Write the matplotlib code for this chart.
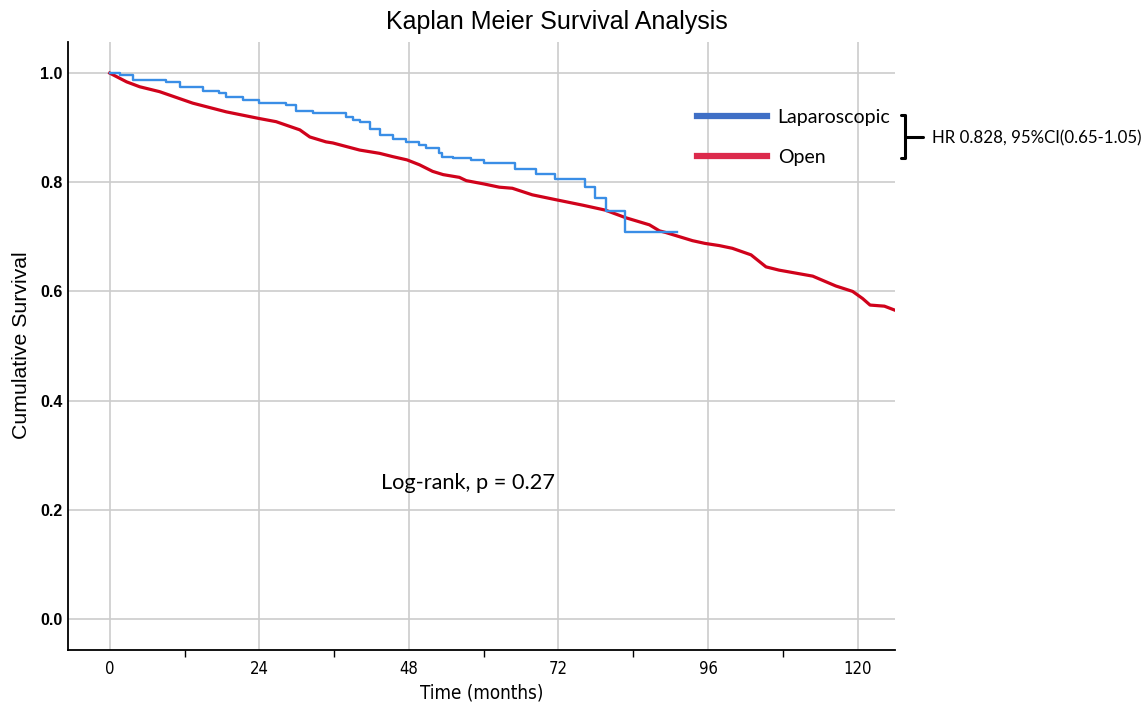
import matplotlib
matplotlib.use("Agg")
from matplotlib import pyplot as plt
from matplotlib.lines import Line2D

# Laparoscopic (blue) - KM steps
lap_t = [0, 1.6, 3.7, 9.1, 11.2, 15.0, 17.6, 18.7, 21.4, 24.0, 28.3, 29.9, 32.6, 37.9, 39.0,
         40.1, 41.7, 43.3, 45.4, 47.6, 49.7, 50.8, 52.9, 53.3, 55.0, 58.0, 60.1, 65.1, 68.4,
         71.5, 76.3, 77.9, 79.6, 82.6, 91.0]
lap_s = [1.0, 0.996, 0.988, 0.984, 0.975, 0.968, 0.963, 0.957, 0.951, 0.946, 0.941, 0.931, 0.927,
         0.920, 0.914, 0.911, 0.897, 0.887, 0.879, 0.874, 0.868, 0.862, 0.853, 0.847, 0.844,
         0.841, 0.836, 0.824, 0.815, 0.806, 0.792, 0.772, 0.747, 0.709, 0.709]

# Open (red)
open_t = [0, 2.7, 4.8, 8.0, 13.3, 18.7, 23.9, 26.7, 30.5, 32.1, 34.7, 35.8, 40.1, 43.3, 45.4,
          47.7, 49.7, 51.8, 53.5, 56.1, 57.2, 60.0, 62.5, 64.6, 67.8, 71.6, 75.9, 79.5, 82.8,
          86.6, 88.2, 89.2, 93.5, 95.5, 97.8, 99.9, 102.9, 105.3, 107.4, 112.8, 116.5, 119.2,
          120.8, 122.0, 124.3, 125.9]
open_s = [1.0, 0.984, 0.975, 0.966, 0.945, 0.929, 0.917, 0.911, 0.896, 0.883, 0.874, 0.872,
          0.859, 0.853, 0.847, 0.841, 0.832, 0.820, 0.814, 0.809, 0.803, 0.797, 0.791, 0.789,
          0.777, 0.768, 0.758, 0.749, 0.735, 0.722, 0.711, 0.708, 0.693, 0.688, 0.684, 0.679,
          0.667, 0.645, 0.639, 0.628, 0.610, 0.600, 0.587, 0.575, 0.573, 0.566]

x_ticks = [0, 24, 48, 72, 96, 120]
x_minor = [12, 36, 60, 84, 108]
y_ticks = [0.0, 0.2, 0.4, 0.6, 0.8, 1.0]

W, H = 1148, 704
fig = plt.figure(figsize=(W / 100, H / 100), dpi=100)
ax = fig.add_axes([68 / W, 1 - 650 / H, (895 - 68) / W, (650 - 42) / H])

ax.plot(open_t, open_s, color="#d0021b", lw=2.3, zorder=3)
ax.plot(lap_t, lap_s, color="#3a8ee6", lw=1.7, drawstyle="steps-post", zorder=4)

ax.set_xlim(-6.7, 126)
ax.set_ylim(-0.057, 1.057)
ax.set_xticks(x_ticks)
ax.set_xticks(x_minor, minor=True)
ax.set_yticks(y_ticks)
ax.set_yticklabels([f"{v:.1f}" for v in y_ticks])
ax.grid(True, color="#cccccc", lw=1.2)
ax.set_axisbelow(True)

for s in ["top", "right"]:
    ax.spines[s].set_visible(False)
ax.spines["left"].set_linewidth(1.3)
ax.spines["bottom"].set_linewidth(1.3)

ax.tick_params(axis="y", length=0, pad=4)
ax.tick_params(axis="x", which="major", length=0, pad=7)
ax.tick_params(axis="x", which="minor", length=5, width=1, direction="out")
for lab in ax.get_yticklabels():
    lab.set_fontfamily("Liberation Sans")
    lab.set_fontweight("bold")
    lab.set_fontsize(11.5)
for lab in ax.get_xticklabels():
    lab.set_fontfamily("DejaVu Sans")
    lab.set_fontstretch("condensed")
    lab.set_fontsize(12)

ax.set_xlabel("Time (months)", family="DejaVu Sans", fontstretch="condensed",
              fontsize=13.5, labelpad=4)
fig.text(22 / W, 1 - 345 / H, "Cumulative Survival", family="Liberation Sans",
         fontsize=15.3, rotation=90, ha="center", va="center")
fig.text(557 / W, 1 - 22 / H, "Kaplan Meier Survival Analysis", family="Liberation Sans",
         fontsize=18, ha="center", va="center")

# legend
handles = [Line2D([], [], color="#3f6fc6", lw=4.5), Line2D([], [], color="#dc2a4c", lw=4.5)]
ax.legend(handles, ["Laparoscopic", "Open"], loc="center left",
          bbox_to_anchor=((697 - 68) / 827, (650 - 137.5) / 608), frameon=False,
          prop={"family": "Lato", "size": 14}, handlelength=3.6, handletextpad=0.55,
          labelspacing=1.2, borderpad=0, borderaxespad=0)

# HR bracket
def px(x, y):
    return [v / W for v in x], [1 - v / H for v in y]

for xs, ys in [([901, 905, 905, 901], [115, 115, 158, 158]), ([905, 923], [137, 137])]:
    fx, fy = px(xs, ys)
    fig.add_artist(Line2D(fx, fy, color="black", lw=2.2, solid_capstyle="round"))
fig.text(932 / W, 1 - 138 / H, "HR 0.828, 95%CI(0.65-1.05)", family="Lato",
         fontsize=12.2, ha="left", va="center")

fig.text(381 / W, 1 - 483 / H, "Log-rank, p = 0.27", family="Lato", fontsize=15.7,
         ha="left", va="center")

fig.savefig("out.png", dpi=100)
